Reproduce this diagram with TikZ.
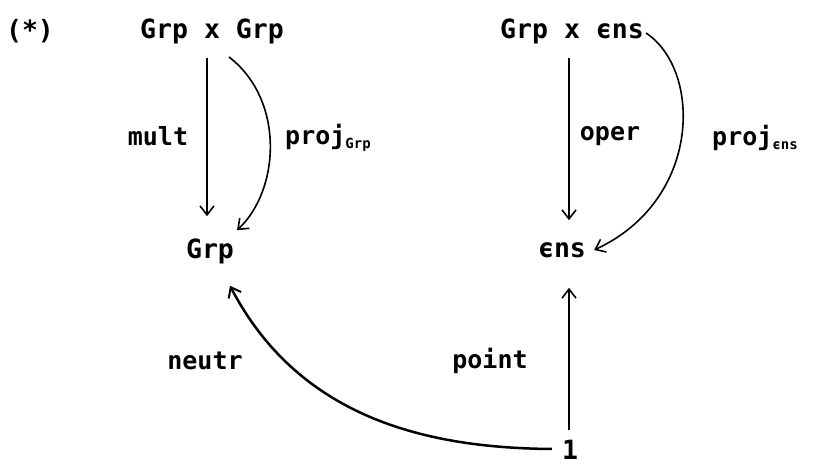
\documentclass[tikz,border=0pt]{standalone}
\usepackage{fontspec}
\setmainfont{DejaVu Sans Mono}[BoldFont={DejaVu Sans Mono Bold}]
\usetikzlibrary{arrows.meta,calc}
\newcommand{\mysub}[1]{\raisebox{-0.3ex}{\fontsize{14}{14}\selectfont #1}}
\tikzset{
  lbl/.style={font=\fontsize{25}{25}\selectfont\bfseries, inner sep=0pt},
  obj/.style={font=\fontsize{26.5}{26.5}\selectfont\bfseries, inner sep=0pt},
  arr/.style={line width=1.6pt, -{Straight Barb[length=9pt,width=14pt,line width=1.6pt]}},
  thick arr/.style={line width=2.5pt, -{Straight Barb[length=9pt,width=14pt,line width=2pt]}}
}
\begin{document}
\begin{tikzpicture}[x=1pt,y=-1pt]
\useasboundingbox (0,0) rectangle (828,473);
\node[obj] (star) at (30,31) {(*)};
\node[obj] (gg) at (212,31) {Grp x Grp};
\node[obj] (ge) at (572,31) {Grp x ϵns};
\node[obj] (g) at (210,251) {Grp};
\node[obj] (e) at (562,250) {ϵns};
\node[obj] (one) at (570,450) {1};
\node[lbl] (lmult) at (158,136) {mult};
\node[lbl, anchor=west] (lpg) at (285,138) {proj\mysub{Grp}};
\node[lbl] (loper) at (610,136) {oper};
\node[lbl, anchor=west] (lpe) at (712,138) {proj\mysub{ϵns}};
\node[lbl] (lneutr) at (205,361) {neutr};
\node[lbl] (lpoint) at (490,361) {point};
% mult
\draw[arr] ($(gg.center)+(-5,27)$) -- ($(g.north)+(-3,-22)$);
% proj Grp
\draw[arr] ($(gg.center)+(17,26)$) .. controls (285,100) and (280,190) .. ($(g.north)+(27,-8)$);
% oper
\draw[arr] ($(ge.center)+(-3,27)$) -- ($(e.north)+(7,-22)$);
% proj ens
\draw[arr] ($(ge.east)+(2,2)$) .. controls (702,70) and (702,200) .. ($(e.east)+(8,0)$);
% point
\draw[arr] ($(one.north)+(-1,-10)$) -- ($(e.south)+(7,30)$);
% neutr
\draw[thick arr] ($(one.west)+(-10,-1)$) .. controls (430,448) and (300,420) .. ($(g.south)+(20,22)$);
\end{tikzpicture}
\end{document}
